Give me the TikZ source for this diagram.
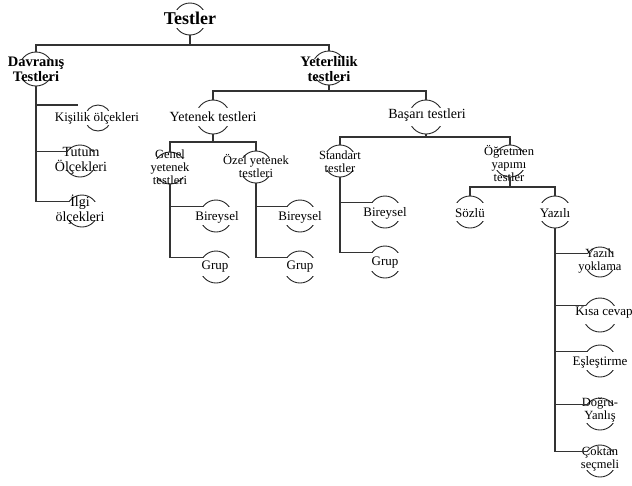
\documentclass[tikz,border=0pt]{standalone}
\usepackage{fontspec}
\setmainfont{Liberation Serif}
\newcommand\ringnode[6]{%
  \node[ring, minimum size={2*#3pt}] (#1) at (#2) {};
  \begin{scope}
    \clip (#1.center) ++({-#3-3},{-#3-3}) rectangle ++({2*#3+6},{#3+3-#3*sin(35)});
    \draw[arcline] (#1.center) circle[radius=#3pt];
  \end{scope}
  \begin{scope}
    \clip (#1.center) ++({-#3-3},{#3*sin(35)}) rectangle ++({2*#3+6},{#3+3-#3*sin(35)});
    \draw[arcline] (#1.center) circle[radius=#3pt];
  \end{scope}
  \node[#5] (#1-t) at (#4) {#6};
}
\tikzset{
  ring/.style={circle, inner sep=0pt, outer sep=0pt},
  arcline/.style={line width=0.9pt, black!85},
  conn/.style={line width=1.1pt, black!80},
  big/.style={font=\fontsize{18}{18}\selectfont\bfseries, inner sep=0pt},
  head/.style={font=\fontsize{14.5}{15}\selectfont\bfseries, align=center, inner sep=0pt},
  mid/.style={font=\fontsize{14}{15}\selectfont, align=center, inner sep=0pt},
  norm/.style={font=\fontsize{13}{13.5}\selectfont, align=center, inner sep=0pt},
  small/.style={font=\fontsize{12.5}{13}\selectfont, align=center, inner sep=0pt},
}
\begin{document}
\begin{tikzpicture}[x=1pt,y=-1pt]
\useasboundingbox (0,0) rectangle (632,485);
% nodes
\ringnode{testler}{190,19}{16}{190,18}{big}{Testler}
\ringnode{davr}{36,69}{17}{36,69}{head}{Davranış\\Testleri}
\ringnode{yeter}{329,68}{17}{329,69}{head}{Yeterlilik\\testleri}
\ringnode{kis}{98,118}{13}{97,118}{norm}{Kişilik ölçekleri}
\ringnode{tutum}{80,161}{16}{81,161}{mid}{Tutum\\Ölçekleri}
\ringnode{ilgi}{82,211}{16}{80,210}{mid}{İlgi\\ölçekleri}
\ringnode{yet}{213,117}{17}{213,117}{mid}{Yetenek testleri}
\ringnode{basari}{426,117}{17}{427,115}{mid}{Başarı testleri}
\ringnode{genel}{170,168}{16}{170,167}{small}{Genel\\yetenek\\testleri}
\ringnode{ozel}{256,167}{16}{256,166}{small}{Özel yetenek\\testleri}
\ringnode{bira}{216,216}{16}{217,217}{norm}{Bireysel}
\ringnode{grupa}{216,267}{16}{215,267}{norm}{Grup}
\ringnode{birb}{300,216}{16}{300,217}{norm}{Bireysel}
\ringnode{grupb}{300,267}{16}{300,267}{norm}{Grup}
\ringnode{std}{340,161}{16}{340,162}{small}{Standart\\testler}
\ringnode{ogr}{510,161}{16}{509,163}{small}{Öğretmen\\yapımı\\testler}
\ringnode{birc}{385,212}{16}{385,213}{norm}{Bireysel}
\ringnode{grupc}{385,262}{16}{385,263}{norm}{Grup}
\ringnode{sozlu}{470,212}{16}{470,213}{norm}{Sözlü}
\ringnode{yazili}{555,212}{16}{555,213}{norm}{Yazılı}
\ringnode{yy}{600,262}{15}{600,261}{small}{Yazılı\\yoklama}
\ringnode{kisa}{600,315}{17}{604,313}{norm}{Kısa cevap}
\ringnode{esl}{600,361}{16}{600,362}{norm}{Eşleştirme}
\ringnode{dy}{600,414}{16}{600,410}{small}{Doğru-\\Yanlış}
\ringnode{cok}{600,461}{16}{600,459}{small}{Çoktan\\seçmeli}
\coordinate (kisin) at (78,105);
% connectors
\draw[conn] (testler.south) -- ++(0,10) -| (davr.north);
\draw[conn] (testler.south) -- ++(0,10) -| (yeter.north);
\draw[conn] (davr.south) |- (kisin);
\draw[conn] (davr.south) |- (tutum.145);
\draw[conn] (davr.south) |- (ilgi.145);
\draw[conn] (yeter.south) -- ++(0,6) -| (yet.north);
\draw[conn] (yeter.south) -- ++(0,6) -| (basari.north);
\draw[conn] (yet.south) -- ++(0,8) -| (genel.north);
\draw[conn] (yet.south) -- ++(0,8) -| (ozel.north);
\draw[conn] (genel.south) |- (bira.145);
\draw[conn] (genel.south) |- (grupa.145);
\draw[conn] (ozel.south) |- (birb.145);
\draw[conn] (ozel.south) |- (grupb.145);
\draw[conn] (basari.south) -- ++(0,3) -| (std.north);
\draw[conn] (basari.south) -- ++(0,3) -| (ogr.north);
\draw[conn] (std.south) |- (birc.145);
\draw[conn] (std.south) |- (grupc.145);
\draw[conn] (ogr.south) -- ++(0,10) -| (sozlu.north);
\draw[conn] (ogr.south) -- ++(0,10) -| (yazili.north);
\draw[conn] (yazili.south) |- (yy.145);
\draw[conn] (yazili.south) |- (kisa.145);
\draw[conn] (yazili.south) |- (esl.145);
\draw[conn] (yazili.south) |- (dy.145);
\draw[conn] (yazili.south) |- (cok.145);
\end{tikzpicture}
\end{document}
